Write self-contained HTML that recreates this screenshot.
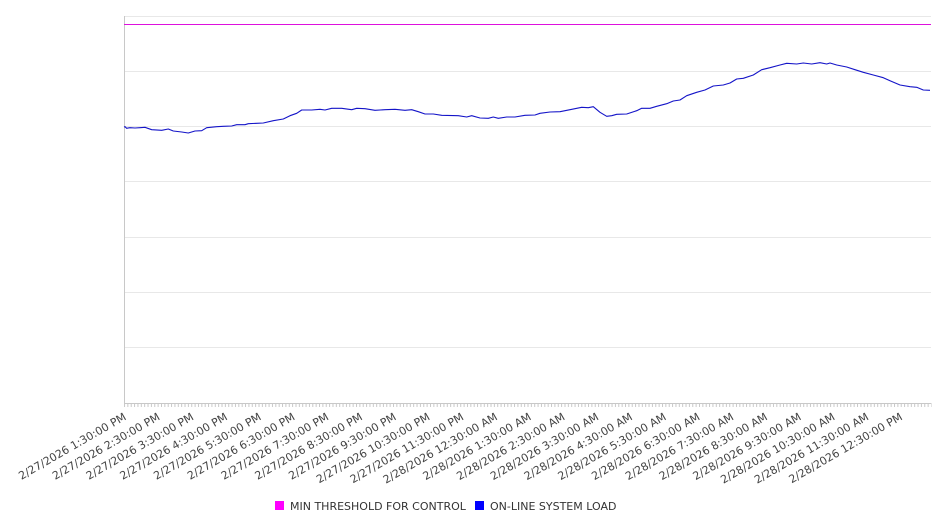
<!DOCTYPE html>
<html>
<head>
<meta charset="utf-8">
<style>
html,body{margin:0;padding:0;background:#fff;}
body{width:946px;height:526px;overflow:hidden;}
svg{display:block;}
text{font-family:"DejaVu Sans","Liberation Sans",sans-serif;}
</style>
</head>
<body>
<svg width="946" height="526" viewBox="0 0 946 526" xmlns="http://www.w3.org/2000/svg">
<defs>
<pattern id="ticks" x="124" y="403" width="3.3625" height="5" patternUnits="userSpaceOnUse">
<rect x="0" y="0" width="1" height="5" fill="#c8c8c8"/>
</pattern>
</defs>
<rect width="946" height="526" fill="#fff"/>
<g stroke="#e8e8e8" stroke-width="1">
<line x1="124" y1="16.5" x2="931" y2="16.5"/>
<line x1="124" y1="71.5" x2="931" y2="71.5"/>
<line x1="124" y1="126.5" x2="931" y2="126.5"/>
<line x1="124" y1="181.5" x2="931" y2="181.5"/>
<line x1="124" y1="237.5" x2="931" y2="237.5"/>
<line x1="124" y1="292.5" x2="931" y2="292.5"/>
<line x1="124" y1="347.5" x2="931" y2="347.5"/>
</g>
<line x1="124.5" y1="16" x2="124.5" y2="404" stroke="#c8c8c8" stroke-width="1"/>
<line x1="124" y1="403.5" x2="931" y2="403.5" stroke="#c8c8c8" stroke-width="1"/>
<rect x="124" y="403" width="807.5" height="4" fill="url(#ticks)"/>
<line x1="124" y1="24.5" x2="931" y2="24.5" stroke="#dd11dd" stroke-width="1.1"/>
<polyline fill="none" stroke="#1414c8" stroke-width="1.1" stroke-linejoin="round" points="124,127 125,126.7 126.7,128.3 130,127.7 135,128 140,127.7 145,127.3 151.7,129.7 161.7,130.3 168.3,129 173.3,131 181.7,132 188.3,133 195,131 201.7,130.7 206.7,127.7 216.7,126.7 223.3,126.3 231.7,126 236.7,124.7 245,124.7 248.3,123.7 256.7,123.3 263.3,123 273.3,120.7 283.3,119 290,115.7 296.7,113.3 301.7,110 311.7,110 320,109.3 325,110 331.7,108.3 341.7,108.3 351.7,109.7 356.7,108.3 365,108.7 375,110.3 385,109.7 395,109.3 405,110.3 411.7,109.7 418.3,111.7 425,114 433.3,114 441.7,115.3 458.3,115.7 466.7,117 471.7,115.7 480,118 488.3,118.3 493.3,117 498.3,118.3 506.7,117 515,117 525,115.3 535,115 540,113.3 550,112 560,111.7 570,109.7 581.7,107.3 588.3,107.7 593.3,106.7 600,112.3 606.7,116.3 611.7,115.7 616.7,114.3 626.7,114 636.7,110.7 641.7,108.3 650,108.3 656.7,106.3 666.7,103.7 673.3,101 680,100 686.7,95.7 696.7,92.3 705,90 713.3,86 723.3,85 730,83 736.7,79 743.3,78.3 753.3,75 761.7,69.7 770,67.7 780,65 786.7,63.3 796.7,64 803.3,63 811.7,64 820,62.7 826.7,64 830,63 836.7,65 846.7,67 855,69.7 863.3,72.3 873.3,75 883.3,77.7 890,80.7 900,85 910,86.7 916.7,87.3 923.3,90 930,90.3"/>
<g font-size="11" fill="#444" text-anchor="end">
<text transform="translate(127,419) rotate(-30)">2/27/2026 1:30:00 PM</text>
<text transform="translate(160.75,419) rotate(-30)">2/27/2026 2:30:00 PM</text>
<text transform="translate(194.5,419) rotate(-30)">2/27/2026 3:30:00 PM</text>
<text transform="translate(228.25,419) rotate(-30)">2/27/2026 4:30:00 PM</text>
<text transform="translate(262,419) rotate(-30)">2/27/2026 5:30:00 PM</text>
<text transform="translate(295.75,419) rotate(-30)">2/27/2026 6:30:00 PM</text>
<text transform="translate(329.5,419) rotate(-30)">2/27/2026 7:30:00 PM</text>
<text transform="translate(363.25,419) rotate(-30)">2/27/2026 8:30:00 PM</text>
<text transform="translate(397,419) rotate(-30)">2/27/2026 9:30:00 PM</text>
<text transform="translate(430.75,419) rotate(-30)">2/27/2026 10:30:00 PM</text>
<text transform="translate(464.5,419) rotate(-30)">2/27/2026 11:30:00 PM</text>
<text transform="translate(498.25,419) rotate(-30)">2/28/2026 12:30:00 AM</text>
<text transform="translate(532,419) rotate(-30)">2/28/2026 1:30:00 AM</text>
<text transform="translate(565.75,419) rotate(-30)">2/28/2026 2:30:00 AM</text>
<text transform="translate(599.5,419) rotate(-30)">2/28/2026 3:30:00 AM</text>
<text transform="translate(633.25,419) rotate(-30)">2/28/2026 4:30:00 AM</text>
<text transform="translate(667,419) rotate(-30)">2/28/2026 5:30:00 AM</text>
<text transform="translate(700.75,419) rotate(-30)">2/28/2026 6:30:00 AM</text>
<text transform="translate(734.5,419) rotate(-30)">2/28/2026 7:30:00 AM</text>
<text transform="translate(768.25,419) rotate(-30)">2/28/2026 8:30:00 AM</text>
<text transform="translate(802,419) rotate(-30)">2/28/2026 9:30:00 AM</text>
<text transform="translate(835.75,419) rotate(-30)">2/28/2026 10:30:00 AM</text>
<text transform="translate(869.5,419) rotate(-30)">2/28/2026 11:30:00 AM</text>
<text transform="translate(903.25,419) rotate(-30)">2/28/2026 12:30:00 PM</text>
</g>
<rect x="275" y="501" width="9" height="9" fill="#ff00ff"/>
<text x="290" y="510" font-size="11" fill="#333">MIN THRESHOLD FOR CONTROL</text>
<rect x="475" y="501" width="9" height="9" fill="#0000ff"/>
<text x="490" y="510" font-size="11" fill="#333">ON-LINE SYSTEM LOAD</text>
</svg>
</body>
</html>
